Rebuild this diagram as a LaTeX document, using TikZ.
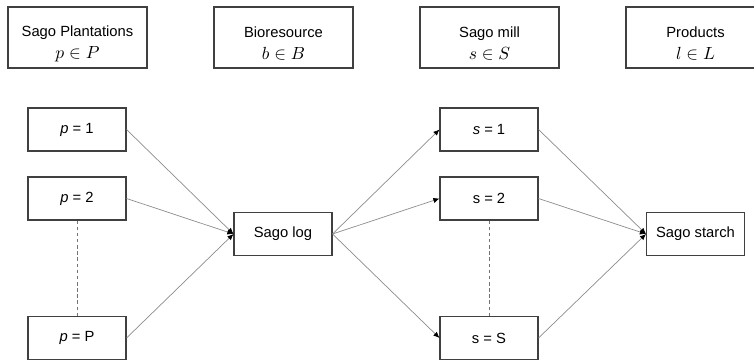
\documentclass[tikz,border=0pt]{standalone}
\usepackage{fontspec}
\setmainfont{Liberation Sans}
\usetikzlibrary{arrows.meta}
\tikzstyle{header}=[draw=black!75, line width=0.6pt, minimum width=2.78cm, minimum height=1.22cm, align=center, font=\fontsize{8.4}{12.5}\selectfont]
\tikzstyle{unit}=[draw=black!75, line width=0.6pt, minimum width=1.96cm, minimum height=0.86cm, font=\fontsize{8.4}{10}\selectfont]
\tikzstyle{flow}=[draw=black!45, line width=0.4pt, -{Latex[black,length=3.5pt,width=3pt]}]
\tikzstyle{gap}=[draw=black!55, line width=0.5pt, dash pattern=on 2pt off 1.5pt]
\newcommand{\setmath}[1]{{\fontsize{9.8}{12}\selectfont$#1$}}
\newcommand{\toppad}{\rule{0pt}{13pt}}
\begin{document}
\begin{tikzpicture}
	\useasboundingbox (0,0) rectangle (15.08,7.2);
%
	\node[header] (hplant) at (1.55,6.45) {\toppad Sago Plantations\\ \setmath{p \in P}};
	\node[header] (hbio) at (5.67,6.45) {\toppad Bioresource\\ \setmath{b \in B}};
	\node[header] (hmill) at (9.79,6.45) {\toppad Sago mill\\ \setmath{s \in S}};
	\node[header] (hprod) at (13.91,6.45) {\toppad Products\\ \setmath{l \in L}};
%
	\node[unit] (p1) at (1.54,4.61) {\textit{p} = 1};
	\node[unit] (p2) at (1.54,3.23) {\textit{p} = 2};
	\node[unit] (pP) at (1.54,0.44) {\textit{p} = P};
	\node[unit] (log) at (5.66,2.52) {Sago log};
	\node[unit] (s1) at (9.78,4.61) {\textit{s} = 1};
	\node[unit] (s2) at (9.78,3.23) {s = 2};
	\node[unit] (sS) at (9.78,0.44) {s = S};
	\node[unit] (starch) at (13.91,2.52) {Sago starch};
%
	\draw[gap] (p2.south) -- (pP.north);
	\draw[gap] (s2.south) -- (sS.north);
%
	\foreach \src in {p1,p2,pP}
		\draw[flow] (\src.east) -- (log.west);
	\foreach \dst in {s1,s2,sS}
		\draw[flow] (log.east) -- (\dst.west);
	\foreach \src in {s1,s2,sS}
		\draw[flow] (\src.east) -- (starch.west);
\end{tikzpicture}
\end{document}
